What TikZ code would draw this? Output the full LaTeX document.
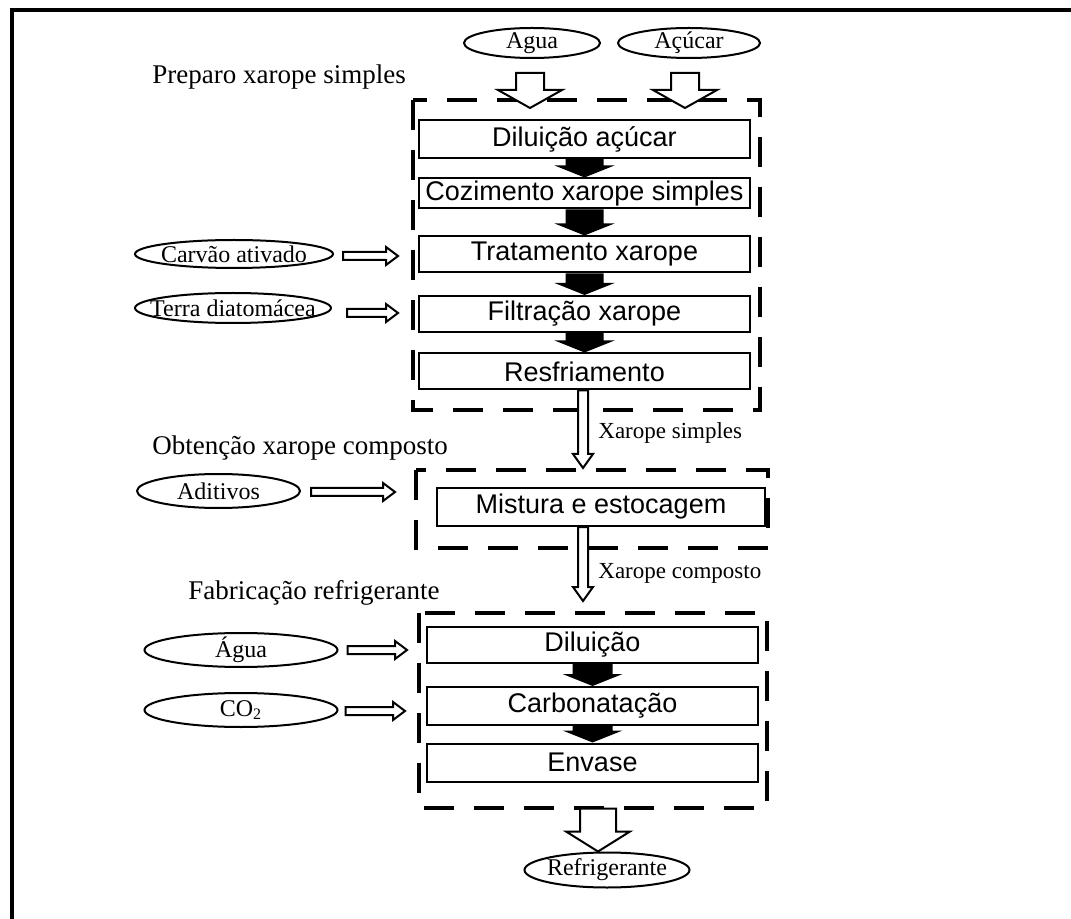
\documentclass[tikz,border=0pt]{standalone}
\usepackage{fontspec}
\setmainfont{Liberation Serif}
\setsansfont{Liberation Sans}
\usepackage{tikz}
\usetikzlibrary{shapes.geometric,calc}

\tikzset{
  every node/.style={inner sep=0pt},
  stepbox/.style={draw, line width=1pt, minimum width=165.5pt, minimum height=18pt, font=\sffamily\fontsize{13.5}{15}\selectfont},
  feed/.style={draw, ellipse, line width=1pt, inner xsep=-20pt, inner ysep=-3pt, font=\fontsize{12}{14}\selectfont},
  phase/.style={anchor=west, font=\fontsize{13.5}{15}\selectfont},
  flowlabel/.style={anchor=west, font=\fontsize{11.5}{13}\selectfont},
  groupbox/.style={draw, line width=2pt, dash pattern=on 15pt off 10pt},
  inarrow/.style={draw, line width=1pt, fill=white},
  passarrow/.style={fill=black},
  vblock/.style n args={3}{to path={let \p1=(\tikztostart), \p2=(\tikztotarget) in
    (\x1-#1,\y1) -- (\x1-#1,\y2+#3) -- (\x1-#2,\y2+#3) -- (\x1,\y2) -- (\x1+#2,\y2+#3) -- (\x1+#1,\y2+#3) -- (\x1+#1,\y1) -- cycle}},
  hblock/.style n args={3}{to path={let \p1=(\tikztostart), \p2=(\tikztotarget) in
    (\x1,\y1-#1) -- (\x2-#3,\y1-#1) -- (\x2-#3,\y1-#2) -- (\x2,\y1) -- (\x2-#3,\y1+#2) -- (\x2-#3,\y1+#1) -- (\x1,\y1+#1) -- cycle}},
}

\begin{document}
\begin{tikzpicture}[x=0.5pt,y=-0.5pt]
\useasboundingbox (0,0) rectangle (1071,919);
\draw [line width=1.8pt] (12,919) -- (12,10) -- (1071,10);

\node [phase] (t1) at (152,77) {Preparo xarope simples};
\node [phase] (t2) at (152,448) {Obtenção xarope composto};
\node [phase] (t3) at (188,593) {Fabricação refrigerante};

\draw [groupbox] (413,100) rectangle (760,410);
\draw [groupbox] (416,470) rectangle (768,548);
\draw [groupbox] (419,613) rectangle (767,808);

\node [feed, minimum width=68pt, minimum height=15pt] (agua) at (532,43) {Agua};
\node [feed, minimum width=71pt, minimum height=15pt] (acucar) at (689,43) {Açúcar};
\node [feed, minimum width=99pt, minimum height=14pt] (carvao) at (234,254) {Carvão ativado};
\node [feed, minimum width=98pt, minimum height=15pt] (terra) at (233,308) {Terra diatomácea};
\node [feed, minimum width=81.5pt, minimum height=17pt] (aditivos) at (218.5,491) {Aditivos};
\node [feed, minimum width=96.5pt, minimum height=17pt] (agua2) at (241,650) {Água};
\node [feed, minimum width=96.5pt, minimum height=17pt] (co2) at (241,710) {CO\textsubscript{2}};
\node [feed, minimum width=82.5pt, minimum height=17.5pt] (refri) at (607,870) {Refrigerante};

\node [stepbox, minimum height=19pt] (s1) at (584.5,139) {Diluição açúcar};
\node [stepbox, minimum height=15pt] (s2) at (584.5,193.5) {Cozimento xarope simples};
\node [stepbox] (s3) at (584.5,254.5) {Tratamento xarope};
\node [stepbox] (s4) at (584.5,314) {Filtração xarope};
\node [stepbox] (s5) at (584.5,371.5) {Resfriamento};
\node [stepbox, minimum width=164pt, minimum height=19pt] (s6) at (601,507) {Mistura e estocagem};
\node [stepbox] (s7) at (592.5,645) {Diluição};
\node [stepbox, minimum height=19pt] (s8) at (592.5,706) {Carbonatação};
\node [stepbox, minimum height=19pt] (s9) at (592.5,762.5) {Envase};

\coordinate (aguain) at (530,108);
\coordinate (acucarin) at (685,108);
\coordinate (carvaoin) at (398,256);
\coordinate (terrain) at (398,313);
\coordinate (aditivosin) at (395,492);
\coordinate (agua2in) at (407,650);
\coordinate (co2in) at (405,711);
\coordinate (xsin) at (583,468);
\coordinate (xcin) at (583,601);

\draw [inarrow, vblock={7pt}{16pt}{9pt}] ($(agua.south)+(-2,14)$) to (aguain);
\draw [inarrow, vblock={7pt}{16pt}{9pt}] ($(acucar.south)+(-4,14)$) to (acucarin);

\fill [passarrow, vblock={9.5pt}{15pt}{6pt}] (s1.south) to (s2.north);
\fill [passarrow, vblock={9.5pt}{15pt}{6pt}] (s2.south) to (s3.north);
\fill [passarrow, vblock={9.5pt}{15pt}{6pt}] (s3.south) to (s4.north);
\fill [passarrow, vblock={9.5pt}{15pt}{6pt}] (s4.south) to (s5.north);
\fill [passarrow, vblock={10pt}{15pt}{6pt}] (s7.south) to (s8.north);
\fill [passarrow, vblock={10pt}{15pt}{6pt}] (s8.south) to (s9.north);

\draw [inarrow, hblock={2pt}{4.5pt}{6pt}] ($(carvao.east)+(9,2)$) to (carvaoin);
\draw [inarrow, hblock={2pt}{4.5pt}{6pt}] ($(terra.east)+(15,5)$) to (terrain);
\draw [inarrow, hblock={2pt}{4.5pt}{6pt}] ($(aditivos.east)+(10,1)$) to (aditivosin);
\draw [inarrow, hblock={2pt}{4.5pt}{6pt}] ($(agua2.east)+(9,0)$) to (agua2in);
\draw [inarrow, hblock={2pt}{4.5pt}{6pt}] ($(co2.east)+(7,1)$) to (co2in);

\draw [inarrow, vblock={2.5pt}{5pt}{7pt}] ($(s5.south)+(-1.5,0)$) to (xsin);
\node [flowlabel] (l1) at (598,433) {Xarope simples};
\draw [inarrow, vblock={2.5pt}{5pt}{7pt}] ($(s6.south)+(-18,0)$) to (xcin);
\node [flowlabel] (l2) at (598,573) {Xarope composto};

\draw [inarrow, vblock={9pt}{16pt}{10pt}] ($(s9.south)+(5.5,26)$) to (refri.north);
\end{tikzpicture}
\end{document}
